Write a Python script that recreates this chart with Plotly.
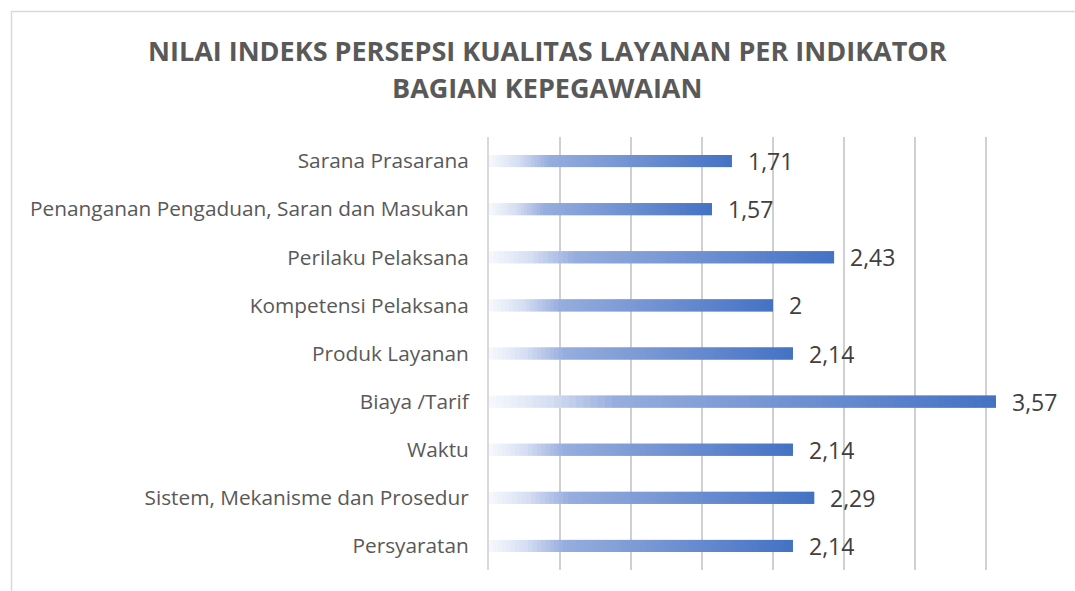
import plotly.graph_objects as go

categories = [
    "Persyaratan",
    "Sistem, Mekanisme dan Prosedur",
    "Waktu",
    "Biaya /Tarif",
    "Produk Layanan",
    "Kompetensi Pelaksana",
    "Perilaku Pelaksana",
    "Penanganan Pengaduan, Saran dan Masukan",
    "Sarana Prasarana",
]
values = [2.14, 2.29, 2.14, 3.57, 2.14, 2, 2.43, 1.57, 1.71]
title_lines = [
    "NILAI INDEKS PERSEPSI KUALITAS LAYANAN PER INDIKATOR",
    "BAGIAN KEPEGAWAIAN",
]

# gradient stops (relative position along bar, rgb)
stops = [
    (0.0, (246, 248, 253)),
    (0.12, (214, 223, 243)),
    (0.25, (150, 173, 222)),
    (1.0, (68, 114, 196)),
]


def grad(t):
    for (p0, c0), (p1, c1) in zip(stops[:-1], stops[1:]):
        if p0 <= t <= p1:
            f = (t - p0) / (p1 - p0)
            return "rgb(%d,%d,%d)" % tuple(round(a + (b - a) * f) for a, b in zip(c0, c1))
    return "rgb(%d,%d,%d)" % stops[-1][1]


N = 70
fig = go.Figure()
for j in range(N):
    t = (j + 0.5) / N
    span = 2 if j < N - 1 else 1
    fig.add_trace(go.Bar(
        y=categories,
        x=[v / N * span for v in values],
        base=[v * j / N for v in values],
        orientation="h",
        width=0.25,
        marker=dict(color=grad(t), line=dict(width=0)),
        hoverinfo="skip",
        showlegend=False,
    ))

labels = [("%g" % v).replace(".", ",") for v in values]
for cat, v, lab in zip(categories, values, labels):
    fig.add_annotation(
        x=v, y=cat, xref="x", yref="y",
        text=lab, showarrow=False,
        xanchor="left", yanchor="middle", xshift=14,
        font=dict(family="Open Sans", size=23, color="#404040"),
    )

fig.update_layout(
    width=1075,
    height=591,
    barmode="overlay",
    paper_bgcolor="white",
    plot_bgcolor="white",
    margin=dict(l=489, r=18, t=137, b=21),
    bargap=0.75,
)
fig.update_xaxes(
    range=[0, 4],
    dtick=0.5,
    showticklabels=False,
    showgrid=True,
    gridcolor="#d0d0d0",
    gridwidth=1.5,
    zeroline=False,
    showline=False,
    fixedrange=True,
)
fig.update_yaxes(
    type="category",
    categoryorder="array",
    categoryarray=categories,
    showgrid=False,
    showline=True,
    linecolor="#d9d9d9",
    linewidth=2,
    ticks="",
    ticklabelstandoff=14,
    tickfont=dict(family="Open Sans", size=20.8, color="#595959"),
    fixedrange=True,
)

# title lines
for i, line in enumerate(title_lines):
    fig.add_annotation(
        text="<b>%s</b>" % line,
        xref="paper", yref="paper",
        x=(547 - 489) / 568, y=(570 - (50 + 38 * i)) / 433,
        xanchor="center", yanchor="middle",
        showarrow=False,
        font=dict(family="Open Sans", size=27, color="#595959"),
    )

# chart border (top and left visible)
fig.add_shape(
    type="rect", xref="paper", yref="paper",
    x0=(11.5 - 489) / 568, x1=(1090 - 489) / 568,
    y0=(570 - 600) / 433, y1=(570 - 11.5) / 433,
    line=dict(color="#d9d9d9", width=1.5),
    fillcolor="rgba(0,0,0,0)",
    layer="below",
)

fig.write_html(
    "out.html",
    config={"displayModeBar": False},
    post_script="document.body.style.margin='0';document.body.style.overflow='hidden';",
)
